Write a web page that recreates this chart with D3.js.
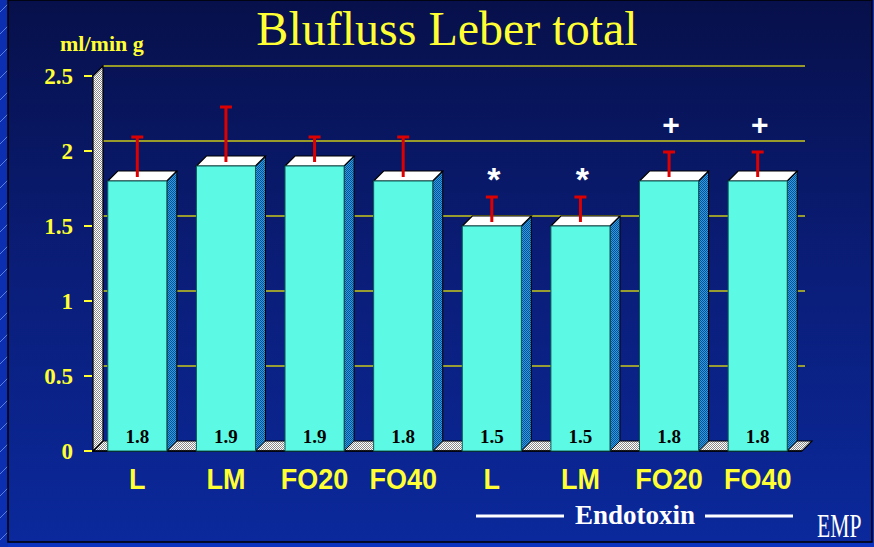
<!DOCTYPE html>
<html>
<head>
<meta charset="utf-8">
<script src="https://cdn.jsdelivr.net/npm/d3@7"></script>
<style>
  body { margin: 0; background: #0b33b8; }
  svg { display: block; }
</style>
</head>
<body>
<div id="vis"></div>
<script>
var categories = ['L', 'LM', 'FO20', 'FO40', 'L', 'LM', 'FO20', 'FO40'];
var means = [1.8, 1.9, 1.9, 1.8, 1.5, 1.5, 1.8, 1.8];
var sds = [0.3, 0.4, 0.2, 0.3, 0.2, 0.2, 0.2, 0.2];
var marks = ['', '', '', '', '*', '*', '+', '+'];
var yTicks = [0, 0.5, 1, 1.5, 2, 2.5];

var width = 874, height = 547;
var depth = 10;
var serif = '"Liberation Serif", "Times New Roman", serif';
var sans = '"Liberation Sans", Arial, sans-serif';

var svg = d3.select('#vis').append('svg')
    .attr('width', width)
    .attr('height', height);

var defs = svg.append('defs');

var grad = defs.append('linearGradient').attr('id', 'bg')
    .attr('x1', 0).attr('y1', 0).attr('x2', 0).attr('y2', 1);
grad.append('stop').attr('offset', '0%').attr('stop-color', '#07104a');
grad.append('stop').attr('offset', '50%').attr('stop-color', '#0a1d78');
grad.append('stop').attr('offset', '100%').attr('stop-color', '#0b299c');

// small checker patterns for the 3d walls
var checker = (id, a, b) => {
    var p = defs.append('pattern').attr('id', id)
        .attr('width', 2).attr('height', 2)
        .attr('patternUnits', 'userSpaceOnUse');
    p.append('rect').attr('width', 2).attr('height', 2).attr('fill', a);
    p.append('rect').attr('width', 1).attr('height', 1).attr('fill', b);
    p.append('rect').attr('x', 1).attr('y', 1).attr('width', 1).attr('height', 1).attr('fill', b);
};
checker('wall', '#ffffff', '#8a8a8a');
checker('side', '#2a9ee0', '#0a4f95');

var stripe = defs.append('pattern').attr('id', 'strip')
    .attr('width', 8).attr('height', 22)
    .attr('patternUnits', 'userSpaceOnUse');
stripe.append('rect').attr('width', 8).attr('height', 22).attr('fill', '#0b2fb0');
stripe.append('line').attr('x1', 0).attr('y1', 12).attr('x2', 8).attr('y2', 4)
    .attr('stroke', '#5a7de0').attr('stroke-width', 1);

// slide frame
svg.append('rect').attr('width', width).attr('height', height).attr('fill', '#0b33c0');
svg.append('rect').attr('width', 8).attr('height', height).attr('fill', 'url(#strip)');
svg.append('rect').attr('x', 8).attr('y', 0).attr('width', 864).attr('height', 542)
    .attr('fill', 'url(#bg)').attr('stroke', '#000').attr('stroke-width', 1.5);

var xScale = d3.scaleBand()
    .domain(d3.range(categories.length))
    .range([93, 802])
    .paddingInner(1 / 3)
    .paddingOuter(1 / 6);

var yScale = d3.scaleLinear()
    .domain([0, 2.5])
    .range([451, 76]);

var x0 = xScale.range()[0], x1 = xScale.range()[1];
var y0 = yScale(0), yTop = yScale(2.5);

// back wall grid lines
svg.append('g').selectAll('line')
    .data(yTicks.filter((d) => d > 0))
    .enter().append('line')
    .attr('x1', x0 + depth).attr('x2', x1 + 3)
    .attr('y1', (d) => yScale(d) - depth).attr('y2', (d) => yScale(d) - depth)
    .attr('stroke', '#c8c818').attr('stroke-width', 1.5);

// floor
svg.append('path')
    .attr('d', `M${x0},${y0} L${x0 + depth},${y0 - depth} L${x1 + depth},${y0 - depth} L${x1},${y0} Z`)
    .attr('fill', 'url(#wall)').attr('stroke', '#000').attr('stroke-width', 1.2);

// left wall
svg.append('path')
    .attr('d', `M${x0},${y0} L${x0},${yTop} L${x0 + depth},${yTop - depth} L${x0 + depth},${y0 - depth} Z`)
    .attr('fill', 'url(#wall)').attr('stroke', '#000').attr('stroke-width', 1.2);

svg.append('line')
    .attr('x1', x0).attr('x2', x1)
    .attr('y1', y0).attr('y2', y0)
    .attr('stroke', '#000').attr('stroke-width', 1.5);

// y axis ticks and labels
var yAxis = svg.append('g');
yAxis.selectAll('line').data(yTicks).enter().append('line')
    .attr('x1', 84).attr('x2', 92)
    .attr('y1', (d) => yScale(d)).attr('y2', (d) => yScale(d))
    .attr('stroke', '#ffff33').attr('stroke-width', 2);
yAxis.selectAll('text').data(yTicks).enter().append('text')
    .attr('x', 73).attr('y', (d) => yScale(d) + 8)
    .attr('text-anchor', 'end')
    .attr('font-family', serif).attr('font-weight', 'bold').attr('font-size', 23)
    .attr('fill', '#ffff33')
    .text((d) => d);

svg.append('text')
    .attr('x', 60).attr('y', 51)
    .attr('font-family', serif).attr('font-weight', 'bold').attr('font-size', 22)
    .attr('fill', '#ffff33')
    .text('ml/min g');

// bars
var bw = xScale.bandwidth();
var bars = svg.append('g').selectAll('g')
    .data(means)
    .enter().append('g');

bars.append('path')
    .attr('d', (d, i) => {
        var x = xScale(i) + bw, t = yScale(d);
        return `M${x},${t} L${x + depth},${t - depth} L${x + depth},${y0 - depth} L${x},${y0} Z`;
    })
    .attr('fill', 'url(#side)').attr('stroke', '#000').attr('stroke-width', 1);

bars.append('path')
    .attr('d', (d, i) => {
        var x = xScale(i), t = yScale(d);
        return `M${x},${t} L${x + depth},${t - depth} L${x + bw + depth},${t - depth} L${x + bw},${t} Z`;
    })
    .attr('fill', '#ffffff').attr('stroke', '#000').attr('stroke-width', 1.2);

bars.append('rect')
    .attr('x', (d, i) => xScale(i))
    .attr('y', (d) => yScale(d))
    .attr('width', bw)
    .attr('height', (d) => y0 - yScale(d))
    .attr('fill', '#5cfae4').attr('stroke', '#0f5a5a').attr('stroke-width', 1);

bars.append('text')
    .attr('x', (d, i) => xScale(i) + bw / 2)
    .attr('y', y0 - 8)
    .attr('text-anchor', 'middle')
    .attr('font-family', serif).attr('font-weight', 'bold').attr('font-size', 19)
    .attr('fill', '#000')
    .text((d) => d.toFixed(1));

// error bars
var cx = (i) => xScale(i) + bw / 2;
bars.append('line')
    .attr('x1', (d, i) => cx(i)).attr('x2', (d, i) => cx(i))
    .attr('y1', (d) => yScale(d) - 4)
    .attr('y2', (d, i) => yScale(d + sds[i]))
    .attr('stroke', '#dd0000').attr('stroke-width', 3);
bars.append('line')
    .attr('x1', (d, i) => cx(i) - 6).attr('x2', (d, i) => cx(i) + 6)
    .attr('y1', (d, i) => yScale(d + sds[i]) + 1)
    .attr('y2', (d, i) => yScale(d + sds[i]) + 1)
    .attr('stroke', '#dd0000').attr('stroke-width', 3);

// significance marks
bars.append('text')
    .attr('x', (d, i) => cx(i) + 2)
    .attr('y', (d, i) => yScale(d + sds[i]) - (marks[i] === '*' ? 5 : 16))
    .attr('text-anchor', 'middle')
    .attr('font-family', sans).attr('font-weight', 'bold')
    .attr('font-size', (d, i) => marks[i] === '*' ? 34 : 30)
    .attr('fill', '#ffffff')
    .text((d, i) => marks[i]);

// category labels
svg.append('g').selectAll('text')
    .data(categories)
    .enter().append('text')
    .attr('transform', (d, i) => `translate(${cx(i)},489) scale(1,1.12)`)
    .attr('text-anchor', 'middle')
    .attr('font-family', sans).attr('font-weight', 'bold').attr('font-size', 27)
    .attr('fill', '#ffff33')
    .text((d) => d);

// Endotoxin group label
svg.append('line').attr('x1', 476).attr('x2', 564).attr('y1', 516).attr('y2', 516)
    .attr('stroke', '#fff').attr('stroke-width', 3);
svg.append('line').attr('x1', 705).attr('x2', 793).attr('y1', 516).attr('y2', 516)
    .attr('stroke', '#fff').attr('stroke-width', 3);
svg.append('text')
    .attr('x', 635).attr('y', 524)
    .attr('text-anchor', 'middle')
    .attr('font-family', serif).attr('font-weight', 'bold').attr('font-size', 27)
    .attr('fill', '#ffffff')
    .text('Endotoxin');

// title
svg.append('text')
    .attr('x', 447).attr('y', 45)
    .attr('text-anchor', 'middle')
    .attr('font-family', serif).attr('font-size', 48)
    .attr('fill', '#ffff33')
    .text('Blufluss Leber total');

// logo
svg.append('text')
    .attr('transform', 'translate(817,537) scale(0.72,1.15)')
    .attr('font-family', serif).attr('font-size', 30)
    .attr('fill', '#ffffff')
    .text('EMP');
</script>
</body>
</html>
